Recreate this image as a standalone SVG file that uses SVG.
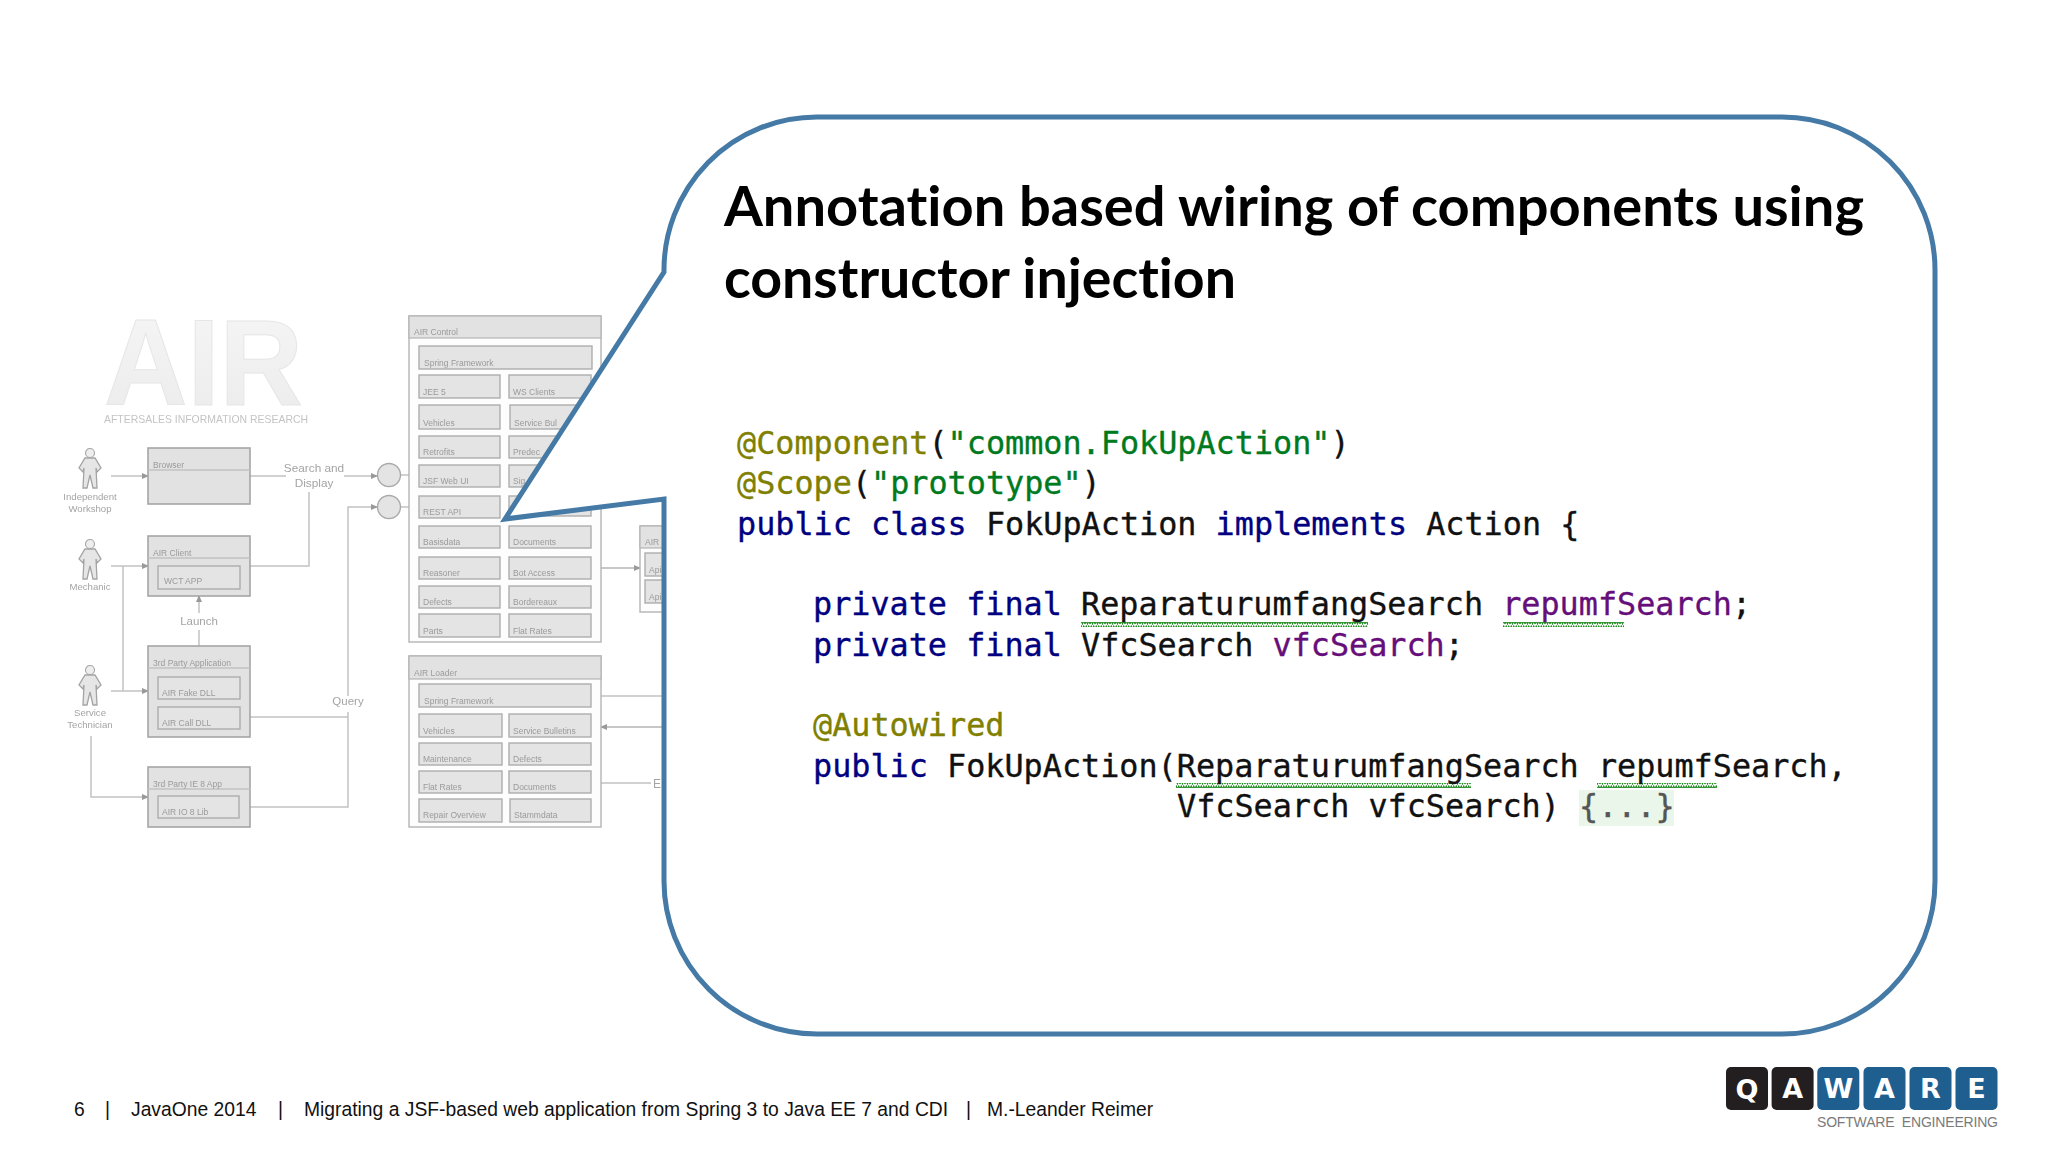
<svg xmlns="http://www.w3.org/2000/svg" width="2048" height="1152" viewBox="0 0 2048 1152">
<style>
.bx{fill:#e2e2e2;stroke:#a6a6a6;stroke-width:1.6}
.in{fill:#e4e4e4;stroke:#adadad;stroke-width:1.4}
.pn{fill:#fdfdfd;stroke:#b4b4b4;stroke-width:1.4}
.hd{fill:#e2e2e2;stroke:#b4b4b4;stroke-width:1.2}
.s{font-family:"Liberation Sans",Arial,sans-serif;font-size:8.5px;fill:#9a9a9a}
.l{font-family:"Liberation Sans",Arial,sans-serif;font-size:9.6px;fill:#a4a4a4;text-anchor:middle}
.c{fill:none;stroke:#c2c2c2;stroke-width:1.5}
.d{fill:none;stroke:#b4b4b4;stroke-width:1.5}
.k{font-family:"DejaVu Sans Mono",monospace;font-size:31.8px;fill:#111;stroke:#111;stroke-width:.35}
.kw{fill:#000080;stroke:#000080}.an{fill:#808000;stroke:#808000}.st{fill:#007a1f;stroke:#007a1f}.fd{fill:#660e7a;stroke:#660e7a}
.t{font-family:Lato,"Open Sans",sans-serif;font-weight:700;font-size:55px;fill:#000;font-variant-ligatures:none}
.f{font-family:"Liberation Sans",Arial,sans-serif;font-size:19.3px;fill:#111}
.lt{font-family:"DejaVu Sans",sans-serif;font-weight:700;font-size:27px;fill:#fff;text-anchor:middle}
</style>
<defs>
<linearGradient id="g" x1="0" y1="0" x2="0" y2="1"><stop offset="0" stop-color="#f6f6f6"/><stop offset="1" stop-color="#ebebeb"/></linearGradient>
<filter id="b" x="-5%" y="-5%" width="110%" height="110%"><feGaussianBlur stdDeviation="0.7"/></filter>
<marker id="a" markerWidth="7" markerHeight="6" refX="6" refY="3" orient="auto" markerUnits="userSpaceOnUse"><path d="M0 0L7 3L0 6Z" fill="#999"/></marker>
<pattern id="w" width="5" height="5" patternUnits="userSpaceOnUse"><path d="M0 4L1.25 1L2.5 4L3.75 1L5 4" fill="none" stroke="#1e8a1e" stroke-width="1.1"/></pattern>
<symbol id="p" viewBox="0 0 30 41" width="30" height="41"><circle cx="15" cy="5" r="4.5" fill="#eee" stroke="#aaa" stroke-width="1.2"/><path d="M10 10H20L26 20L22 24L21 20L22 40H18L15 27L12 40H8L9 20L8 24L4 20Z" fill="#e6e6e6" stroke="#a4a4a4" stroke-width="1.3"/></symbol>
</defs>
<rect width="2048" height="1152" fill="#fff"/>
<g id="background-diagram" filter="url(#b)" transform="translate(1 0)">
<g id="air-logo"><text x="103" y="405" textLength="199" lengthAdjust="spacingAndGlyphs" font-family="Liberation Sans" font-weight="700" font-size="122" fill="url(#g)" stroke="#e6e6e6">AIR</text><text x="103" y="423" textLength="204" lengthAdjust="spacingAndGlyphs" font-family="Liberation Sans" font-size="10.5" fill="#c4c4c4">AFTERSALES INFORMATION RESEARCH</text></g>
<g id="connectors">
<path class="c" marker-end="url(#a)" d="M110 476H147"/>
<path class="c" d="M249 476H285"/>
<path class="c" marker-end="url(#a)" d="M343 476H376"/>
<path class="c" d="M308 492V566H249"/>
<path class="c" marker-end="url(#a)" d="M347 696V507H376"/>
<path class="c" d="M347 712V807H238M347 717H239"/>
<path class="c" d="M400 475H418M400 507H418"/>
<path class="c" marker-end="url(#a)" d="M110 566H147"/>
<path class="c" d="M122 566V691"/>
<path class="c" marker-end="url(#a)" d="M110 691H147"/>
<path class="c" marker-end="url(#a)" d="M90 736V797H147"/>
<path class="c" marker-end="url(#a)" d="M198 613V596"/>
<path class="c" d="M198 630V646"/>
<path class="d" marker-end="url(#a)" d="M590 568H639"/>
<path class="c" d="M600 696H664M600 783H650"/>
<path class="d" marker-end="url(#a)" d="M664 727H600"/>
</g>
<g id="independent-workshop"><use href="#p" x="74" y="448"/><text class="l" x="89" y="500">Independent</text><text class="l" x="89" y="512">Workshop</text></g>
<g id="mechanic"><use href="#p" x="74" y="539"/><text class="l" x="89" y="590">Mechanic</text></g>
<g id="service-technician"><use href="#p" x="74" y="665"/><text class="l" x="89" y="716">Service</text><text class="l" x="89" y="728">Technician</text></g>
<g id="search-display"><text class="l" style="font-size:11.8px" x="313" y="472">Search and</text><text class="l" style="font-size:11.8px" x="313" y="487">Display</text></g>
<g id="launch"><text class="l" style="font-size:11.5px" x="198" y="625">Launch</text></g>
<g id="query"><text class="l" style="font-size:11.5px" x="347" y="705">Query</text></g>
<g id="circles"><circle cx="388" cy="475" r="11.5" fill="#e4e4e4" stroke="#aaa" stroke-width="1.4"/><circle cx="388" cy="507" r="11.5" fill="#e4e4e4" stroke="#aaa" stroke-width="1.4"/></g>
<g id="browser"><rect class="bx" x="147" y="448" width="102" height="56"/><path class="c" stroke="#a6a6a6" d="M147 470H249"/><text class="s" x="152" y="468">Browser</text></g>
<g id="air-client"><rect class="bx" x="147" y="536" width="102" height="60"/><path class="c" d="M147 558H249"/><text class="s" x="152" y="556">AIR Client</text><rect class="in" x="157" y="566" width="82" height="23"/><text class="s" x="163" y="584">WCT APP</text></g>
<g id="third-party-app"><rect class="bx" x="147" y="646" width="102" height="91"/><path class="c" d="M147 668H249"/><text class="s" x="152" y="666">3rd Party Application</text><rect class="in" x="157" y="677" width="82" height="22"/><text class="s" x="161" y="696">AIR Fake DLL</text><rect class="in" x="157" y="707" width="82" height="22"/><text class="s" x="161" y="726">AIR Call DLL</text></g>
<g id="third-party-ie"><rect class="bx" x="147" y="767" width="102" height="60"/><path class="c" d="M147 789H249"/><text class="s" x="152" y="787">3rd Party IE 8 App</text><rect class="in" x="157" y="796" width="81" height="22"/><text class="s" x="161" y="815">AIR IO 8 Lib</text></g>
<g id="air-control"><rect class="pn" x="408" y="316" width="192" height="326"/><rect class="hd" x="408" y="316" width="192" height="22"/><text class="s" x="413" y="335">AIR Control</text>
<rect class="in" x="418" y="346" width="173" height="23"/><text class="s" x="423" y="366">Spring Framework</text>
<rect class="in" x="418" y="375" width="81" height="23"/><text class="s" x="422" y="395">JEE 5</text><rect class="in" x="508" y="375" width="82" height="23"/><text class="s" x="512" y="395">WS Clients</text>
<rect class="in" x="418" y="405" width="81" height="24"/><text class="s" x="422" y="426">Vehicles</text><rect class="in" x="509" y="405" width="81" height="24"/><text class="s" x="513" y="426">Service Bul</text>
<rect class="in" x="418" y="436" width="81" height="22"/><text class="s" x="422" y="455">Retrofits</text><rect class="in" x="508" y="436" width="82" height="22"/><text class="s" x="512" y="455">Predec</text>
<rect class="in" x="418" y="465" width="81" height="22"/><text class="s" x="422" y="484">JSF Web UI</text><rect class="in" x="508" y="465" width="82" height="22"/><text class="s" x="512" y="484">Sig</text>
<rect class="in" x="418" y="496" width="81" height="22"/><text class="s" x="422" y="515">REST API</text><rect class="in" x="508" y="496" width="82" height="20"/>
<rect class="in" x="418" y="526" width="81" height="22"/><text class="s" x="422" y="545">Basisdata</text><rect class="in" x="508" y="526" width="82" height="22"/><text class="s" x="512" y="545">Documents</text>
<rect class="in" x="418" y="557" width="81" height="22"/><text class="s" x="422" y="576">Reasoner</text><rect class="in" x="508" y="557" width="82" height="22"/><text class="s" x="512" y="576">Bot Access</text>
<rect class="in" x="418" y="586" width="81" height="22"/><text class="s" x="422" y="605">Defects</text><rect class="in" x="508" y="586" width="82" height="22"/><text class="s" x="512" y="605">Bordereaux</text>
<rect class="in" x="418" y="614" width="81" height="23"/><text class="s" x="422" y="634">Parts</text><rect class="in" x="508" y="614" width="82" height="23"/><text class="s" x="512" y="634">Flat Rates</text></g>
<g id="air-side"><rect class="pn" x="639" y="526" width="40" height="86"/><rect class="hd" x="639" y="526" width="40" height="22"/><text class="s" x="644" y="545">AIR</text><rect class="in" x="644" y="553" width="35" height="23"/><text class="s" x="648" y="573">Api</text><rect class="in" x="644" y="580" width="35" height="23"/><text class="s" x="648" y="600">Api</text></g>
<g id="air-loader"><rect class="pn" x="408" y="656" width="192" height="171"/><rect class="hd" x="408" y="656" width="192" height="23"/><text class="s" x="413" y="676">AIR Loader</text>
<rect class="in" x="418" y="684" width="172" height="23"/><text class="s" x="423" y="704">Spring Framework</text>
<rect class="in" x="418" y="714" width="83" height="23"/><text class="s" x="422" y="734">Vehicles</text><rect class="in" x="508" y="714" width="82" height="23"/><text class="s" x="512" y="734">Service Bulletins</text>
<rect class="in" x="418" y="743" width="83" height="22"/><text class="s" x="422" y="762">Maintenance</text><rect class="in" x="508" y="743" width="82" height="22"/><text class="s" x="512" y="762">Defects</text>
<rect class="in" x="418" y="771" width="83" height="22"/><text class="s" x="422" y="790">Flat Rates</text><rect class="in" x="508" y="771" width="82" height="22"/><text class="s" x="512" y="790">Documents</text>
<rect class="in" x="418" y="799" width="83" height="23"/><text class="s" x="422" y="818">Repair Overview</text><rect class="in" x="509" y="799" width="81" height="23"/><text class="s" x="513" y="818">Stammdata</text></g>
<text class="l" style="font-size:12px;text-anchor:start" x="652" y="788">E</text>
</g>
<g id="callout"><path d="M817 117H1782A153 153 0 0 1 1935 270V881A153 153 0 0 1 1782 1034H817A153 153 0 0 1 664 881V499L505 519L664 272A153 153 0 0 1 817 117Z" fill="#fff" stroke="#447aa5" stroke-width="5"/></g>
<g id="title"><text class="t" x="724" y="226" textLength="1140" lengthAdjust="spacingAndGlyphs">Annotation based wiring of components using</text><text class="t" x="724" y="298" textLength="512" lengthAdjust="spacingAndGlyphs">constructor injection</text></g>
<g id="code">
<rect x="1579" y="790" width="95" height="36" fill="#e9f6e9"/>
<rect x="1081" y="622" width="287" height="5" fill="url(#w)"/><rect x="1503" y="622" width="121" height="5" fill="url(#w)"/>
<rect x="1176" y="783" width="295" height="5" fill="url(#w)"/><rect x="1597" y="783" width="120" height="5" fill="url(#w)"/>
<text class="k" x="737" y="454"><tspan class="an">@Component</tspan>(<tspan class="st">"common.FokUpAction"</tspan>)</text>
<text class="k" x="737" y="494"><tspan class="an">@Scope</tspan>(<tspan class="st">"prototype"</tspan>)</text>
<text class="k" x="737" y="535"><tspan class="kw">public class</tspan> FokUpAction <tspan class="kw">implements</tspan> Action {</text>
<text class="k" x="813" y="615"><tspan class="kw">private final</tspan> ReparaturumfangSearch <tspan class="fd">repumfSearch</tspan>;</text>
<text class="k" x="813" y="656"><tspan class="kw">private final</tspan> VfcSearch <tspan class="fd">vfcSearch</tspan>;</text>
<text class="k an" x="813" y="736">@Autowired</text>
<text class="k" x="813" y="777"><tspan class="kw">public</tspan> FokUpAction(ReparaturumfangSearch repumfSearch,</text>
<text class="k" x="1177" y="817">VfcSearch vfcSearch) <tspan fill="#555" stroke="#555">{...}</tspan></text>
</g>
<g id="footer">
<text class="f" x="74" y="1116">6</text><text class="f" x="105" y="1116">|</text><text class="f" x="131" y="1116">JavaOne 2014</text><text class="f" x="278" y="1116">|</text><text class="f" x="304" y="1116">Migrating a JSF-based web application from Spring 3 to Java EE 7 and CDI</text><text class="f" x="966" y="1116">|</text><text class="f" x="987" y="1116">M.-Leander Reimer</text>
</g>
<g id="logo">
<rect x="1726" y="1067" width="42" height="43" rx="5" fill="#231f20"/><rect x="1771.6" y="1067" width="42" height="43" rx="5" fill="#231f20"/>
<rect x="1817.3" y="1067" width="42" height="43" rx="5" fill="#1f5f8f"/><rect x="1863.5" y="1067" width="42" height="43" rx="5" fill="#1f5f8f"/><rect x="1909.5" y="1067" width="42" height="43" rx="5" fill="#1f5f8f"/><rect x="1955.5" y="1067" width="42" height="43" rx="5" fill="#1f5f8f"/>
<text class="lt" x="1747" y="1099">Q</text><text class="lt" x="1792.6" y="1098">A</text><text class="lt" x="1838.3" y="1098">W</text><text class="lt" x="1884.5" y="1098">A</text><text class="lt" x="1930.5" y="1098">R</text><text class="lt" x="1976.5" y="1098">E</text>
<text x="1817" y="1127" textLength="181" font-family="Liberation Sans" font-size="14" fill="#7a7a7a" xml:space="preserve">SOFTWARE  ENGINEERING</text>
</g>
</svg>
